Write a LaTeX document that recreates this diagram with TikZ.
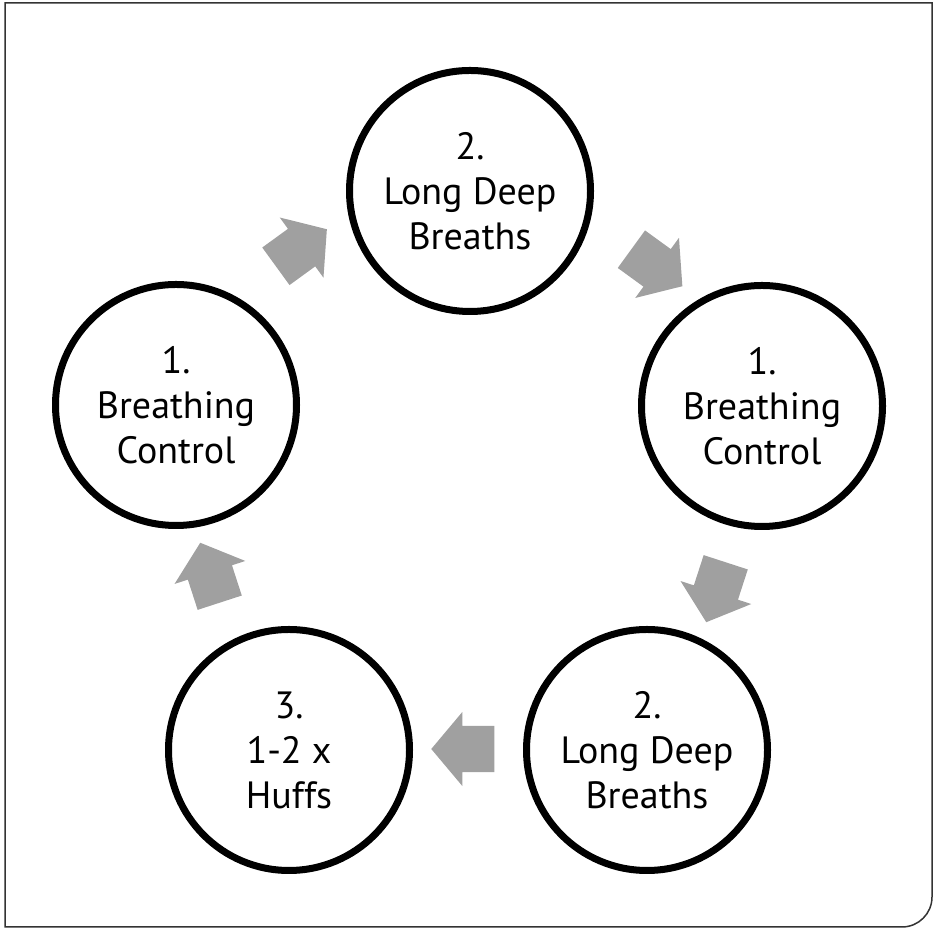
\documentclass[tikz,border=0pt]{standalone}
\usepackage{fontspec}
\setmainfont{PT Sans}
\usepackage{xcolor}
\usetikzlibrary{shapes.arrows}

\definecolor{arrowgray}{RGB}{160,160,160}

\begin{document}
\begin{tikzpicture}[
    x=1pt, y=1pt,
    stage/.style={circle, draw, line width=7pt, minimum size=241pt, inner sep=0pt, align=center, font=\fontsize{38}{45}\selectfont},
    flow/.style={single arrow, fill=arrowgray, draw=none, inner xsep=0pt, inner ysep=23pt, minimum height=63pt, single arrow head extend=14pt, single arrow tip angle=100}
]
\useasboundingbox (0,0) rectangle (940,928);

% Frame
\draw[black!80, line width=1.5pt] (400,1) [rounded corners=30pt] -- (932,1) -- (932,500) [sharp corners] -- (932,925) -- (5,925) -- (5,1) -- cycle;

% Stages
\node[stage] (breathTop) at (470,737) {2.\\Long Deep\\Breaths};
\node[stage] (ctrlRight) at (762,522) {1.\\Breathing\\Control};
\node[stage] (breathLow) at (647,178) {2.\\Long Deep\\Breaths};
\node[stage] (huffs) at (289,178) {3.\\1-2 x\\Huffs};
\node[stage] (ctrlLeft) at (176,523) {1.\\Breathing\\Control};

% Arrows
\node[flow, rotate=36] (toTop) at (293.5,674.5) {};
\node[flow, rotate=-36] (toRight) at (649,666) {};
\node[flow, rotate=-108] (toLow) at (719,345) {};
\node[flow, rotate=180] (toHuffs) at (472.5,179) {};
\node[flow, rotate=108] (toLeft) at (213,346) {};

\end{tikzpicture}
\end{document}
